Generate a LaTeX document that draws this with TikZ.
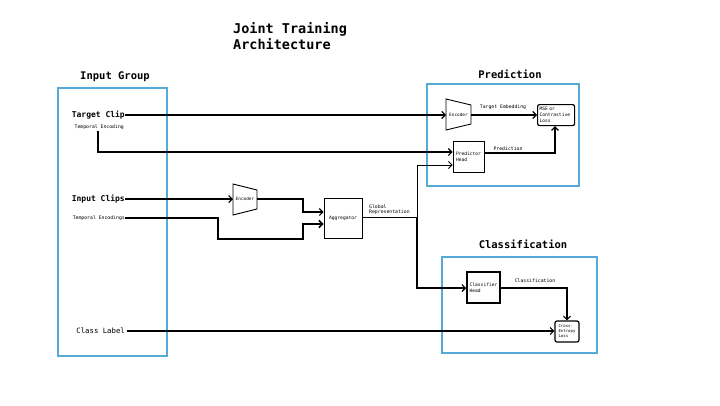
\documentclass[tikz,border=0pt]{standalone}
\usepackage{fontspec}
\setmonofont{DejaVu Sans Mono}
\usetikzlibrary{arrows.meta,calc}
\definecolor{grpblue}{RGB}{85,170,215}
\begin{document}
\begin{tikzpicture}[x=1pt,y=-1pt,
  grp/.style={draw=grpblue, line width=1.6pt},
  grptitle/.style={font=\ttfamily\bfseries\fontsize{10.5}{12}\selectfont, inner sep=0},
  srcl/.style={font=\ttfamily\bfseries\fontsize{8}{9}\selectfont, anchor=east, inner sep=0},
  small/.style={font=\ttfamily\fontsize{4.8}{5.6}\selectfont, inner sep=0, align=left},
  blk/.style={draw, line width=0.9pt, fill=white, font=\ttfamily\fontsize{4.6}{5.8}\selectfont, align=left, inner sep=1.5pt},
  conn/.style={line width=1.1pt, -{Straight Barb[length=3.5pt,width=7pt]}},
  line/.style={line width=1.1pt}]
\useasboundingbox (0,0) rectangle (720,405);

% title
\node[anchor=north west, inner sep=0, align=left, font=\ttfamily\bfseries\fontsize{13.5}{16}\selectfont] (title) at (233,22) {Joint Training\\Architecture};

% groups
\draw[grp] (58,88) rectangle (167,356);
\node[grptitle] (tinp) at (115,77) {Input Group};
\draw[grp] (427,84) rectangle (579,186);
\node[grptitle] (tpred) at (510,74) {Prediction};
\draw[grp] (442,257) rectangle (597,353);
\node[grptitle] (tcls) at (523,244) {Classification};

% inputs
\node[srcl] (tc) at (125,115) {Target Clip};
\node[small, anchor=east] (te) at (124,127) {Temporal Encoding};
\node[srcl] (ic) at (125,199) {Input Clips};
\node[small, anchor=east] (tes) at (125,218) {Temporal Encodings};
\node[srcl, font=\ttfamily\fontsize{7.3}{8}\selectfont] (cl) at (125,331) {Class Label};

% encoders (trapezoids)
\draw[line width=0.9pt, fill=white] (446,99) -- (471,105) -- (471,124) -- (446,130) -- cycle;
\node[small, font=\ttfamily\fontsize{4.4}{5}\selectfont] (enc1) at (458.5,115) {Encoder};
\coordinate (enc1w) at (446,115);
\coordinate (enc1e) at (471,115);
\draw[line width=0.9pt, fill=white] (233,184) -- (257,190) -- (257,209) -- (233,215) -- cycle;
\node[small, font=\ttfamily\fontsize{4.4}{5}\selectfont] (enc2) at (245,199) {Encoder};
\coordinate (enc2w) at (233,199);
\coordinate (enc2e) at (257,199);

% blocks
\node[blk, minimum width=38pt, minimum height=40pt] (agg) at (343,218) {Aggregator};
\node[blk, minimum width=31pt, minimum height=31pt] (ph) at (468.5,156.5) {Predictor\\Head};
\node[blk, rounded corners=2pt, line width=1.2pt, minimum width=37pt, minimum height=21pt, anchor=north west, text width=33pt, inner sep=1.5pt] (mse) at (537,104) {MSE or\\Contrastive\\Loss};
\node[blk, line width=1.5pt, minimum width=33pt, minimum height=31pt] (ch) at (483.5,287.5) {Classifier\\Head};
\node[blk, rounded corners=2pt, line width=1.2pt, minimum width=24pt, minimum height=21pt, font=\ttfamily\fontsize{4}{5}\selectfont] (cel) at (567,331.5) {Cross-\\Entropy\\Loss};

% connectors
\draw[conn] (tc.east) -- (enc1w);
\coordinate (te1) at (98,131);
\draw[conn] (te1) -- (98,152) -- (ph.west |- 0,152);
\draw[conn] (ic.east) -- (enc2w);
\draw[conn] (enc2e) -- (303,199) -- (303,212) -- (agg.west |- 0,212);
\draw[conn, line width=1.5pt] (tes.east) -- (218,218) -- (218,239) -- (303,239) -- (303,224) -- (agg.west |- 0,224);
\coordinate (gsplit) at (417,217);
\draw[line width=0.9pt] (agg.east |- 0,217) -- (gsplit);
\draw[conn, line width=0.9pt] (gsplit) -- (417,165) -- (ph.west |- 0,165);
\draw[conn] (gsplit) -- (417,288) -- (ch.west |- 0,288);
\node[small, anchor=south west] (glab) at (369,215) {Global\\Representation};

\draw[conn] (enc1e) -- (mse.west |- 0,115);
\node[small] (telab) at (503,107) {Target Embedding};
\draw[conn] (ph.east |- 0,153) -- (555,153) -- (mse.south -| 555,0);
\node[small] (plab) at (508,149) {Prediction};
\draw[conn] (ch.east |- 0,288) -- (567,288) -- (cel.north);
\node[small] (clab) at (535,281) {Classification};
\draw[conn] (cl.east) ++(2,0) -- (cel.west |- 0,331);
\end{tikzpicture}
\end{document}
